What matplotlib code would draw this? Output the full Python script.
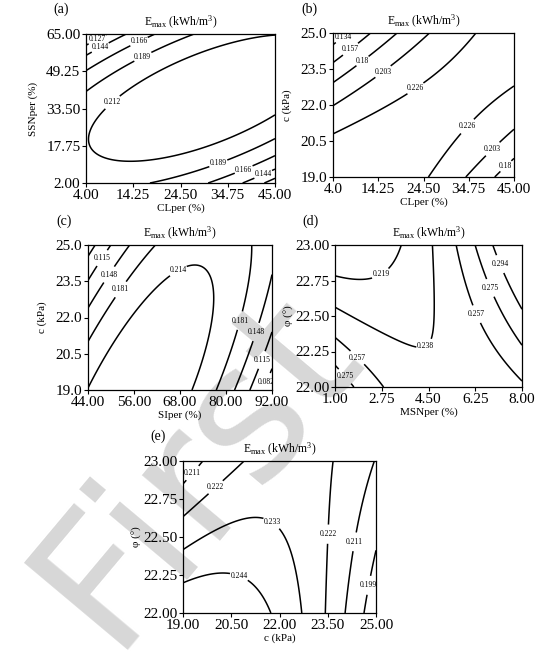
import numpy as np
import matplotlib
matplotlib.use("Agg")
import matplotlib.pyplot as plt

plt.rcParams['font.family'] = ['Liberation Serif', 'DejaVu Serif']
plt.rcParams['mathtext.fontset'] = 'custom'
plt.rcParams['mathtext.rm'] = 'Liberation Serif'
plt.rcParams['mathtext.it'] = 'Liberation Serif:italic'

# quadratic response surface coefficients in coded units (-1..1):
# b0, b1 (x), b2 (y), b12 (xy), b11 (x^2), b22 (y^2)
coef_a = [0.23242, 0.00731, 0.00137, 0.04537, -0.02334, -0.05192]
coef_b = [0.23222, 0.00757, -0.01464, 0.05161, -0.02227, -0.01839]
coef_c = [0.23066, -0.01636, -0.01309, 0.06191, -0.08888, -0.01805]
coef_d = [0.23649, 0.02343, -0.00310, 0.04119, 0.03042, 0.00184]
coef_e = [0.23382, -0.01403, -0.00772, 0.01762, -0.01905, -0.00022]

levels_a = [0.127, 0.144, 0.166, 0.189, 0.212]
levels_b = [0.134, 0.157, 0.18, 0.203, 0.226]
levels_c = [0.082, 0.115, 0.148, 0.181, 0.214]
levels_d = [0.219, 0.238, 0.257, 0.275, 0.294]
levels_e = [0.199, 0.211, 0.222, 0.233, 0.244]

xticks_a = [4.00, 14.25, 24.50, 34.75, 45.00]
yticks_a = [2.00, 17.75, 33.50, 49.25, 65.00]
xticks_b = [4.0, 14.25, 24.50, 34.75, 45.00]
yticks_b = [19.0, 20.5, 22.0, 23.5, 25.0]
xticks_c = [44.00, 56.00, 68.00, 80.00, 92.00]
yticks_c = [19.0, 20.5, 22.0, 23.5, 25.0]
xticks_d = [1.00, 2.75, 4.50, 6.25, 8.00]
yticks_d = [22.00, 22.25, 22.50, 22.75, 23.00]
xticks_e = [19.00, 20.50, 22.00, 23.50, 25.00]
yticks_e = [22.00, 22.25, 22.50, 22.75, 23.00]

xlab_b = ['4.0', '14.25', '24.50', '34.75', '45.00']
ylab_b = ['19.0', '20.5', '22.0', '23.5', '25.0']

# where the contour labels sit (approx, data units)
lab_a = [(6.3, 63.2), (7.0, 59.6), (15.7, 61.0), (16.4, 55.1), (9.6, 36.4),
         (32.7, 10.3), (38.1, 8.2), (42.5, 5.4)]
lab_b = [(7.0, 24.7), (8.2, 24.27), (10.4, 23.9), (15.3, 23.4), (22.5, 22.74),
         (34.5, 21.1), (40.0, 20.2), (42.6, 19.56)]
lab_c = [(47.1, 24.52), (48.9, 23.84), (51.9, 23.23), (67.1, 24.05),
         (82.3, 21.93), (88.0, 21.39), (88.4, 20.3), (89.5, 19.41)]
lab_d = [(2.82, 22.76), (4.47, 22.26), (1.80, 22.2), (1.28, 22.06),
         (5.89, 22.48), (6.46, 22.67), (6.98, 22.85)]
lab_e = [(19.3, 22.92), (20.09, 22.81), (21.75, 22.59), (20.76, 22.25),
         (23.36, 22.52), (24.29, 22.47), (24.58, 22.19)]

def rsm(coef, xt, yt):
    x = np.linspace(xt[0], xt[-1], 300)
    y = np.linspace(yt[0], yt[-1], 300)
    X, Y = np.meshgrid(x, y)
    u = (X - (xt[0] + xt[-1]) / 2) / ((xt[-1] - xt[0]) / 2)
    v = (Y - (yt[0] + yt[-1]) / 2) / ((yt[-1] - yt[0]) / 2)
    b0, b1, b2, b12, b11, b22 = coef
    Z = b0 + b1*u + b2*v + b12*u*v + b11*u*u + b22*v*v
    return X, Y, Z

def panel(rect, coef, levels, xt, yt, xl, yl, tag, labs, xtl=None, ytl=None, ylpad=6):
    ax = fig.add_axes(rect)
    ax.set_facecolor('none')
    X, Y, Z = rsm(coef, xt, yt)
    cs = ax.contour(X, Y, Z, levels=levels, colors='black', linewidths=1.1)
    tx = ax.clabel(cs, fmt={l: ('%g' % l) for l in levels}, fontsize=5.5,
                   inline=True, inline_spacing=1, manual=labs)
    for t in tx:
        t.set_rotation(0)
    ax.set_xlim(xt[0], xt[-1])
    ax.set_ylim(yt[0], yt[-1])
    ax.set_xticks(xt)
    ax.set_yticks(yt)
    ax.set_xticklabels(xtl if xtl else ['%.2f' % t for t in xt])
    ax.set_yticklabels(ytl if ytl else ['%.2f' % t for t in yt])
    ax.tick_params(labelsize=11, length=3, width=0.8, pad=1)
    ax.set_xlabel(xl, fontsize=8, labelpad=1)
    ax.set_ylabel(yl, fontsize=8, labelpad=ylpad)
    ax.set_title('E$_{\\rm max}$ (kWh/m$^3$)', fontsize=8.5, pad=6)
    ax.text(-0.13, 1.14, tag, transform=ax.transAxes, fontsize=10, ha='center')
    for s in ax.spines.values():
        s.set_linewidth(0.9)
    return ax

fig = plt.figure(figsize=(5.47, 6.54), dpi=100)
W, H = 547.0, 654.0
def r(l, t, rt, b):
    return [l / W, 1 - b / H, (rt - l) / W, (b - t) / H]

fig.text(0.36, 0.285, 'First', rotation=50, fontsize=134, family='DejaVu Sans',
         color='#d7d7d7', ha='center', va='center', zorder=-1)

panel(r(86, 34, 275, 183), coef_a, levels_a, xticks_a, yticks_a, 'CLper (%)', 'SSNper (%)', '(a)', lab_a)
panel(r(333, 33, 514, 177), coef_b, levels_b, xticks_b, yticks_b, 'CLper (%)', 'c (kPa)', '(b)', lab_b,
      xtl=xlab_b, ytl=ylab_b)
panel(r(88, 245, 272, 390), coef_c, levels_c, xticks_c, yticks_c, 'SIper (%)', 'c (kPa)', '(c)', lab_c,
      ytl=ylab_b)
panel(r(335, 245, 522, 387), coef_d, levels_d, xticks_d, yticks_d, 'MSNper (%)', 'φ (°)', '(d)', lab_d,
      ylpad=1)
panel(r(183, 461, 376, 613), coef_e, levels_e, xticks_e, yticks_e, 'c (kPa)', 'φ (°)', '(e)', lab_e,
      ylpad=1)

fig.savefig('out.png', dpi=100)
